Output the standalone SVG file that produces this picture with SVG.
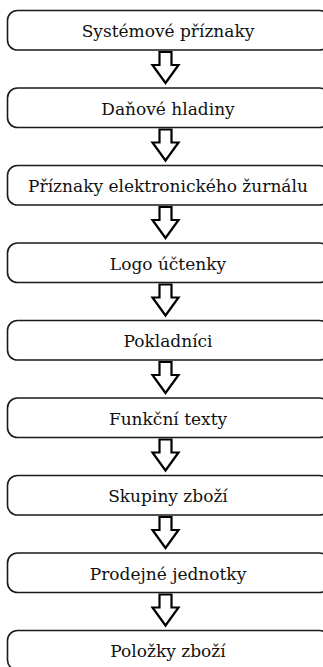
<svg xmlns="http://www.w3.org/2000/svg" width="323" height="667" viewBox="0 0 323 667">
<style>
.box{fill:#fff;stroke:#1a1a1a;stroke-width:1.6}
.t{font-family:'DejaVu Serif','Liberation Serif',serif;font-size:17px;fill:#111;text-anchor:middle}
.arr{fill:#fff;stroke:#000;stroke-width:2.2;stroke-linejoin:miter}
</style>
<defs>
<path id="a" class="arr" d="M159.5,52 H171.5 V65 H178.5 L165.5,83 L152.5,65 H159.5 Z"/>
</defs>
<rect width="323" height="667" fill="#fff"/>
<g id="connectors">
<use href="#a"/>
<use href="#a" y="77.5"/>
<use href="#a" y="155"/>
<use href="#a" y="232.5"/>
<use href="#a" y="310"/>
<use href="#a" y="387.5"/>
<use href="#a" y="465"/>
<use href="#a" y="542.5"/>
</g>
<g id="n1"><rect class="box" x="7.5" y="10.5" width="322" height="39.5" rx="10"/><text class="t" x="168" y="37">Systémové příznaky</text></g>
<g id="n2"><rect class="box" x="7.5" y="88" width="322" height="39.5" rx="10"/><text class="t" x="168" y="114.5">Daňové hladiny</text></g>
<g id="n3"><rect class="box" x="7.5" y="165.5" width="322" height="39.5" rx="10"/><text class="t" x="168" y="192">Příznaky elektronického žurnálu</text></g>
<g id="n4"><rect class="box" x="7.5" y="243" width="322" height="39.5" rx="10"/><text class="t" x="168" y="269.5">Logo účtenky</text></g>
<g id="n5"><rect class="box" x="7.5" y="320.5" width="322" height="39.5" rx="10"/><text class="t" x="168" y="347">Pokladníci</text></g>
<g id="n6"><rect class="box" x="7.5" y="398" width="322" height="39.5" rx="10"/><text class="t" x="168" y="424.5">Funkční texty</text></g>
<g id="n7"><rect class="box" x="7.5" y="475.5" width="322" height="39.5" rx="10"/><text class="t" x="168" y="502">Skupiny zboží</text></g>
<g id="n8"><rect class="box" x="7.5" y="553" width="322" height="39.5" rx="10"/><text class="t" x="168" y="579.5">Prodejné jednotky</text></g>
<g id="n9"><rect class="box" x="7.5" y="630.5" width="322" height="39.5" rx="10"/><text class="t" x="168" y="657">Položky zboží</text></g>
</svg>
